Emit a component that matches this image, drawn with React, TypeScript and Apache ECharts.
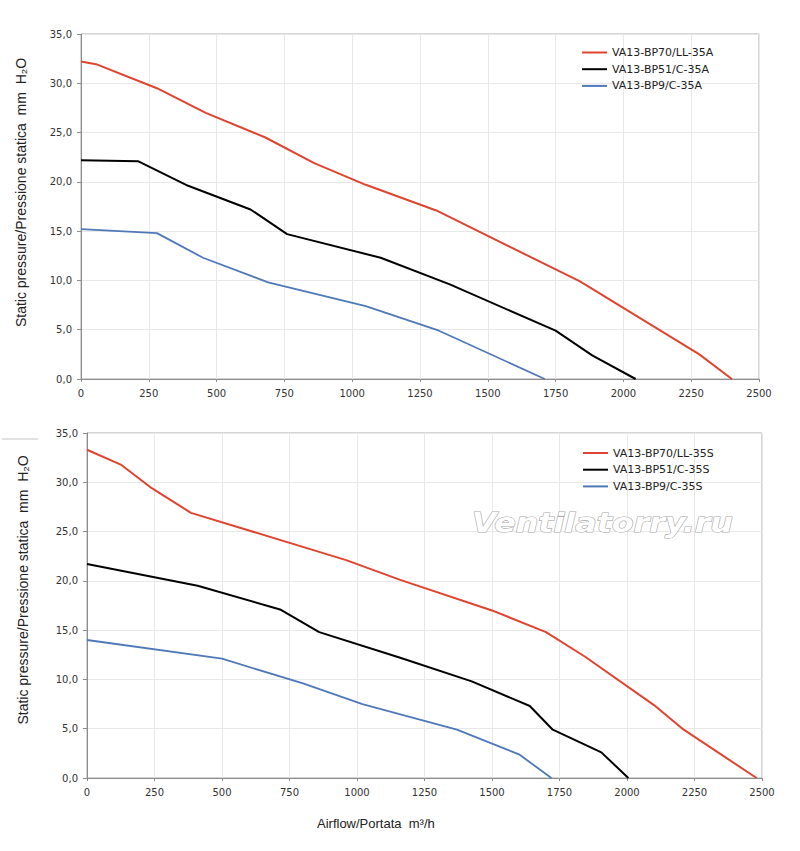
import React, { useRef, useEffect } from 'react';
import * as echarts from 'echarts';

// top chart (A models)
const namesA = ['VA13-BP70/LL-35A', 'VA13-BP51/C-35A', 'VA13-BP9/C-35A'];
const redA = [[0, 32.2], [60, 31.9], [280, 29.5], [460, 27.0], [680, 24.5], [860, 21.9], [1050, 19.7], [1310, 17.1], [1840, 9.9], [2280, 2.5], [2400, 0]];
const blackA = [[0, 22.2], [210, 22.1], [395, 19.6], [625, 17.2], [760, 14.7], [1105, 12.3], [1360, 9.6], [1750, 4.9], [1885, 2.4], [2045, 0]];
const blueA = [[0, 15.2], [280, 14.8], [450, 12.3], [690, 9.8], [1050, 7.4], [1320, 4.9], [1710, 0]];

// bottom chart (S models)
const namesS = ['VA13-BP70/LL-35S', 'VA13-BP51/C-35S', 'VA13-BP9/C-35S'];
const redS = [[0, 33.3], [125, 31.8], [240, 29.4], [385, 26.9], [960, 22.1], [1160, 20.1], [1500, 17.0], [1700, 14.8], [1845, 12.3], [2100, 7.4], [2210, 4.9], [2480, 0]];
const blackS = [[0, 21.7], [410, 19.5], [715, 17.1], [860, 14.8], [1160, 12.2], [1425, 9.8], [1640, 7.3], [1725, 4.9], [1905, 2.6], [2005, 0]];
const blueS = [[0, 14.0], [500, 12.1], [800, 9.6], [1020, 7.5], [1370, 4.9], [1600, 2.4], [1720, 0]];

const colors = ['#e0442e', '#000000', '#4f78b9'];
const yTitle = 'Static pressure/Pressione statica  mm  H\u2082O';
const xTitle = 'Airflow/Portata  m\u00b3/h';

const tickFont = 'DejaVu Sans';
const textFont = 'Liberation Sans';

const App: React.FC = () => {
  const chartRef = useRef<HTMLDivElement>(null);

  useEffect(() => {
    if (!chartRef.current) return;
    const chart = echarts.init(chartRef.current, undefined, { renderer: 'svg' });

    const grids = [
      { left: 81, top: 34, width: 678, height: 345 },
      { left: 87, top: 433, width: 675, height: 345 },
    ];

    const xAxes = grids.map((_, i) => ({
      type: 'value' as const,
      gridIndex: i,
      min: 0,
      max: 2500,
      interval: 250,
      axisLine: { show: true, lineStyle: { color: '#8c8c8c', width: 1 } },
      axisTick: { show: true, length: 3, lineStyle: { color: '#8c8c8c' } },
      axisLabel: {
        color: '#333',
        fontSize: 10,
        fontFamily: tickFont,
        margin: 9,
        formatter: (v: number) => String(v),
      },
      splitLine: { show: true, lineStyle: { color: '#e8e8e8' } },
    }));

    const yAxes = grids.map((_, i) => ({
      type: 'value' as const,
      gridIndex: i,
      min: 0,
      max: 35,
      interval: 5,
      axisLine: { show: true, lineStyle: { color: '#8c8c8c', width: 1 } },
      axisTick: { show: true, length: 4, lineStyle: { color: '#8c8c8c' } },
      axisLabel: {
        color: '#333',
        fontSize: 10,
        fontFamily: tickFont,
        margin: 9,
        formatter: (v: number) => v.toFixed(1).replace('.', ','),
      },
      splitLine: { show: true, lineStyle: { color: '#e8e8e8' } },
    }));

    const mkSeries = (name: string, data: number[][], idx: number, color: string) => ({
      name,
      type: 'line' as const,
      xAxisIndex: idx,
      yAxisIndex: idx,
      data,
      showSymbol: false,
      symbol: 'none',
      lineStyle: { color, width: color === colors[2] ? 1.8 : 2 },
      itemStyle: { color },
      z: 3,
    });

    const legendBase = {
      orient: 'vertical' as const,
      icon: 'rect',
      padding: 0,
      itemWidth: 25,
      itemHeight: 2,
      itemGap: 4.7,
      textStyle: { color: '#222', fontSize: 11, fontFamily: tickFont, lineHeight: 12 },
      selectedMode: false,
    };

    const yTitleText = (x: number, y: number) => ({
      type: 'text' as const,
      x,
      y,
      rotation: Math.PI / 2,
      silent: true,
      style: {
        text: yTitle,
        fontSize: 14,
        fontFamily: textFont,
        fill: '#222',
        textAlign: 'center',
        textVerticalAlign: 'middle',
      },
    });

    const option: echarts.EChartsOption = {
      animation: false,
      backgroundColor: '#fff',
      grid: grids.map((g) => ({ ...g, show: true, borderColor: '#aaa', borderWidth: 1, backgroundColor: '#fff' })),
      xAxis: xAxes,
      yAxis: yAxes,
      legend: [
        { ...legendBase, data: namesA, left: 582, top: 46.5 },
        { ...legendBase, data: namesS, left: 583, top: 447 },
      ],
      series: [
        mkSeries(namesA[0], redA, 0, colors[0]),
        mkSeries(namesA[1], blackA, 0, colors[1]),
        mkSeries(namesA[2], blueA, 0, colors[2]),
        mkSeries(namesS[0], redS, 1, colors[0]),
        mkSeries(namesS[1], blackS, 1, colors[1]),
        mkSeries(namesS[2], blueS, 1, colors[2]),
      ],
      graphic: [
        yTitleText(21, 192.5),
        yTitleText(23, 590),
        {
          type: 'text',
          x: 472,
          y: 523,
          scaleX: 1.22,
          z: 1,
          silent: true,
          style: {
            text: 'Ventilatorry.ru',
            fontSize: 26,
            fontFamily: tickFont,
            fontStyle: 'italic',
            fontWeight: 'bold',
            fill: '#fff',
            stroke: '#a8a8a8',
            lineWidth: 1.1,
            textAlign: 'left',
            textVerticalAlign: 'middle',
          },
        },
        {
          type: 'text',
          x: 317,
          y: 823,
          style: {
            text: xTitle,
            fontSize: 13,
            fontFamily: textFont,
            fill: '#222',
            textAlign: 'left',
            textVerticalAlign: 'middle',
          },
        },
        {
          type: 'line',
          shape: { x1: 2, y1: 439, x2: 38, y2: 439 },
          style: { stroke: '#c4c4c4', lineWidth: 1 },
        },
      ],
    };

    chart.setOption(option);
    return () => {
      chart.dispose();
    };
  }, []);

  return (
    <div
      ref={chartRef}
      style={{ position: 'absolute', left: 0, top: 0, width: 800, height: 851 }}
    />
  );
};

export default App;
